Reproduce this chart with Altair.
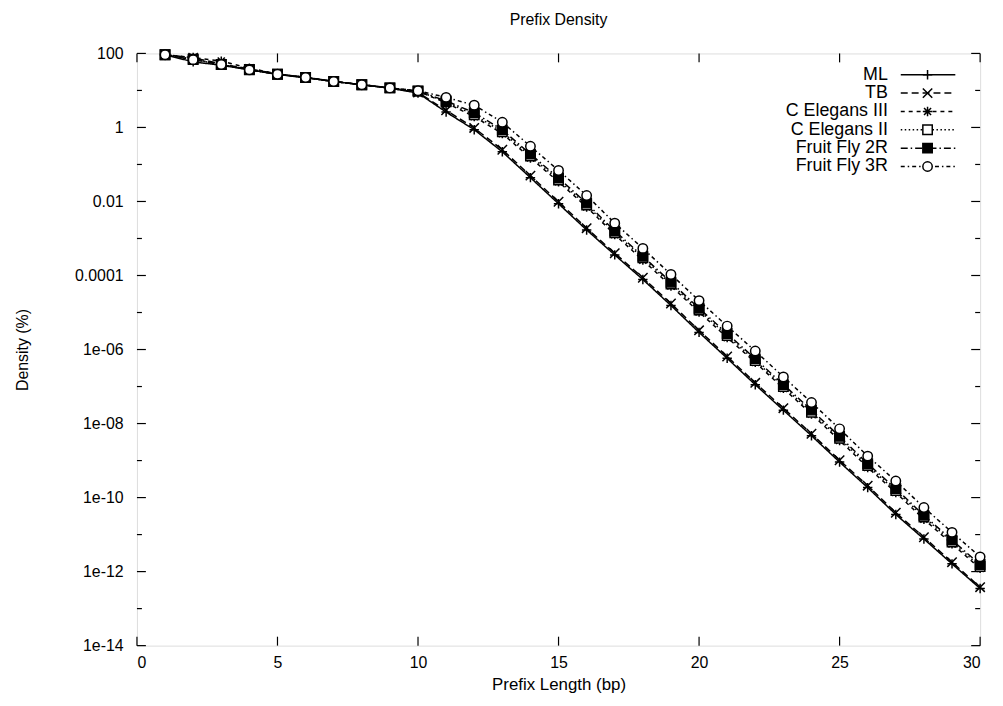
import math
import altair as alt
import pandas as pd

prefix_len = list(range(1, 31))
series_names = ["ML", "TB", "C Elegans III", "C Elegans II", "Fruit Fly 2R", "Fruit Fly 3R"]

ml = [92, 59, 48, 36, 27, 22, 17.4, 14.2, 11.5, 8.5, 2.6, 0.87, 0.22, 0.044, 8.7e-3,
      1.7e-3, 3.6e-4, 7.8e-5, 1.55e-5, 2.9e-6, 5.8e-7, 1.12e-7, 2.3e-8, 4.7e-9, 9.1e-10,
      1.86e-10, 3.5e-11, 7.6e-12, 1.62e-12, 3.5e-13]
tb = [93, 76, 52, 38, 28, 22.5, 17.6, 14.3, 11.6, 8.8, 2.9, 0.97, 0.25, 0.05, 9.8e-3,
      1.9e-3, 4.0e-4, 8.7e-5, 1.75e-5, 3.3e-6, 6.5e-7, 1.26e-7, 2.6e-8, 5.3e-9, 1.02e-9,
      2.1e-10, 3.9e-11, 8.5e-12, 1.8e-12, 3.8e-13]
ce3 = [92, 78, 62, 40, 28, 22.6, 17.6, 14.3, 11.6, 9.5, 4.6, 1.96, 0.68, 0.15, 0.034,
       7.1e-3, 1.27e-3, 2.6e-4, 5.2e-5, 1.03e-5, 2.1e-6, 4.5e-7, 8.9e-8, 1.8e-8, 3.5e-9,
       6.5e-10, 1.37e-10, 2.6e-11, 5.6e-12, 1.22e-12]
ce2 = [92, 70, 50, 37, 27.5, 22.4, 17.4, 14.3, 11.7, 9.6, 4.9, 2.2, 0.76, 0.17, 0.038,
       8.0e-3, 1.43e-3, 3.0e-4, 5.9e-5, 1.16e-5, 2.4e-6, 5.0e-7, 1.0e-7, 2.0e-8, 4.0e-9,
       7.3e-10, 1.54e-10, 3.0e-11, 6.3e-12, 1.38e-12]
ff2r = [92, 68, 50, 36, 27.5, 22.4, 17.4, 14.3, 11.7, 9.7, 5.2, 2.5, 0.86, 0.19, 0.043,
        9.0e-3, 1.6e-3, 3.3e-4, 6.6e-5, 1.3e-5, 2.7e-6, 5.6e-7, 1.13e-7, 2.3e-8, 4.5e-9,
        8.2e-10, 1.74e-10, 3.3e-11, 7.1e-12, 1.55e-12]
ff3r = [92, 68, 50, 36, 27.5, 22.4, 17.4, 14.3, 11.7, 9.8, 6.5, 4.0, 1.38, 0.31, 0.069,
        0.0145, 2.6e-3, 5.4e-4, 1.07e-4, 2.1e-5, 4.3e-6, 9.1e-7, 1.82e-7, 3.7e-8, 7.2e-9,
        1.32e-9, 2.8e-10, 5.4e-11, 1.15e-11, 2.5e-12]

x_ticks = [0, 5, 10, 15, 20, 25, 30]
y_major = [1e2, 1e0, 1e-2, 1e-4, 1e-6, 1e-8, 1e-10, 1e-12, 1e-14]
y_minor = [1e1, 1e-1, 1e-3, 1e-5, 1e-7, 1e-9, 1e-11, 1e-13]
y_labels = ["100", "1", "0.01", "0.0001", "1e-06", "1e-08", "1e-10", "1e-12", "1e-14"]

all_values = [ml, tb, ce3, ce2, ff2r, ff3r]
rows = []
for name, vals in zip(series_names, all_values):
    for x, v in zip(prefix_len, vals):
        rows.append({"x": x, "density": v, "series": name})
df = pd.DataFrame(rows)

FONT = "Liberation Sans"
W, H = 850, 597
LW = 1.5
MS = 90

styles = {
    "ML": dict(dash=[1, 0], shape="M-1,0H1M0,-1V1", fill="transparent"),
    "TB": dict(dash=[7, 4], shape="M-1,-1L1,1M-1,1L1,-1", fill="transparent"),
    "C Elegans III": dict(dash=[4, 4], shape="M-1,0H1M0,-1V1M-0.75,-0.75L0.75,0.75M-0.75,0.75L0.75,-0.75", fill="transparent"),
    "C Elegans II": dict(dash=[1.5, 2.5], shape="square", fill="white"),
    "Fruit Fly 2R": dict(dash=[7, 3, 1.5, 3], shape="square", fill="black"),
    "Fruit Fly 3R": dict(dash=[4, 3, 1.5, 3], shape="circle", fill="white"),
}

label_expr = ""
for v, lab in zip(y_major, y_labels):
    label_expr += f"abs(log(datum.value)/LN10 - ({round(math.log10(v))})) < 0.3 ? '{lab}' : "
label_expr += "''"

xscale = alt.Scale(domain=[0, 30], nice=False, zero=False)
yscale = alt.Scale(type="log", domain=[1e-14, 100], nice=False)

base = alt.Chart(df)
layers = []
for name in series_names:
    st = styles[name]
    sub = base.transform_filter(alt.datum.series == name)
    line = sub.mark_line(color="black", strokeWidth=LW, strokeDash=st["dash"]).encode(
        x=alt.X("x:Q", scale=xscale,
                axis=alt.Axis(values=x_ticks, ticks=False, grid=False, domain=False,
                              labelPadding=9, title="Prefix Length (bp)", titlePadding=6,
                              labelFontSize=16, titleFontSize=17, labelFont=FONT, titleFont=FONT,
                              titleFontWeight="normal", labelColor="black", titleColor="black")),
        y=alt.Y("density:Q", scale=yscale,
                axis=alt.Axis(values=y_major, ticks=False, grid=False, domain=False,
                              labelExpr=label_expr, labelPadding=14, title="Density (%)",
                              titlePadding=44, labelFontSize=16, titleFontSize=16,
                              labelFont=FONT, titleFont=FONT, titleFontWeight="normal",
                              labelColor="black", titleColor="black")),
    )
    pts = sub.mark_point(shape=st["shape"], size=MS, stroke="black", strokeWidth=LW,
                         fill=st["fill"], opacity=1, fillOpacity=1).encode(
        x=alt.X("x:Q", scale=xscale), y=alt.Y("density:Q", scale=yscale))
    layers += [line, pts]

# inward ticks on all four sides
tick_df_major = pd.DataFrame({"density": y_major})
tick_df_minor = pd.DataFrame({"density": y_minor})
xt_df = pd.DataFrame({"x": x_ticks})
for dfk, ln in [(tick_df_major, 9), (tick_df_minor, 5)]:
    layers.append(alt.Chart(dfk).mark_rule(color="black", strokeWidth=1.2).encode(
        y=alt.Y("density:Q", scale=yscale), x=alt.value(0), x2=alt.value(ln)))
    layers.append(alt.Chart(dfk).mark_rule(color="black", strokeWidth=1.2).encode(
        y=alt.Y("density:Q", scale=yscale), x=alt.value(W - ln), x2=alt.value(W)))
layers.append(alt.Chart(xt_df).mark_rule(color="black", strokeWidth=1.2).encode(
    x=alt.X("x:Q", scale=xscale), y=alt.value(H - 9), y2=alt.value(H)))
layers.append(alt.Chart(xt_df).mark_rule(color="black", strokeWidth=1.2).encode(
    x=alt.X("x:Q", scale=xscale), y=alt.value(0), y2=alt.value(9)))

# legend (top right, inside the frame)
one = pd.DataFrame({"k": [0]})
leg_top, leg_step = 21.5, 18.5
for i, name in enumerate(series_names):
    st = styles[name]
    yy = leg_top + i * leg_step
    c = alt.Chart(one)
    layers.append(c.mark_text(align="right", baseline="middle", fontSize=18, font=FONT,
                              color="black").encode(
        x=alt.value(757), y=alt.value(yy), text=alt.value(name)))
    layers.append(c.mark_rule(color="black", strokeWidth=LW, strokeDash=st["dash"]).encode(
        x=alt.value(770), x2=alt.value(825), y=alt.value(yy)))
    layers.append(c.mark_point(shape=st["shape"], size=MS, stroke="black", strokeWidth=LW,
                               fill=st["fill"], opacity=1, fillOpacity=1).encode(
        x=alt.value(797), y=alt.value(yy)))

chart = alt.layer(*layers).properties(
    width=W, height=H,
    title=alt.TitleParams("Prefix Density", fontSize=16, fontWeight="normal", font=FONT,
                          color="black", offset=18),
    autosize=alt.AutoSizeParams(type="none"),
    padding={"left": 130, "top": 43, "right": 15, "bottom": 50},
).configure_view(stroke="black", strokeWidth=1.5).configure(background="white")

chart.save("out.html", embed_options={"renderer": "svg", "actions": False})
